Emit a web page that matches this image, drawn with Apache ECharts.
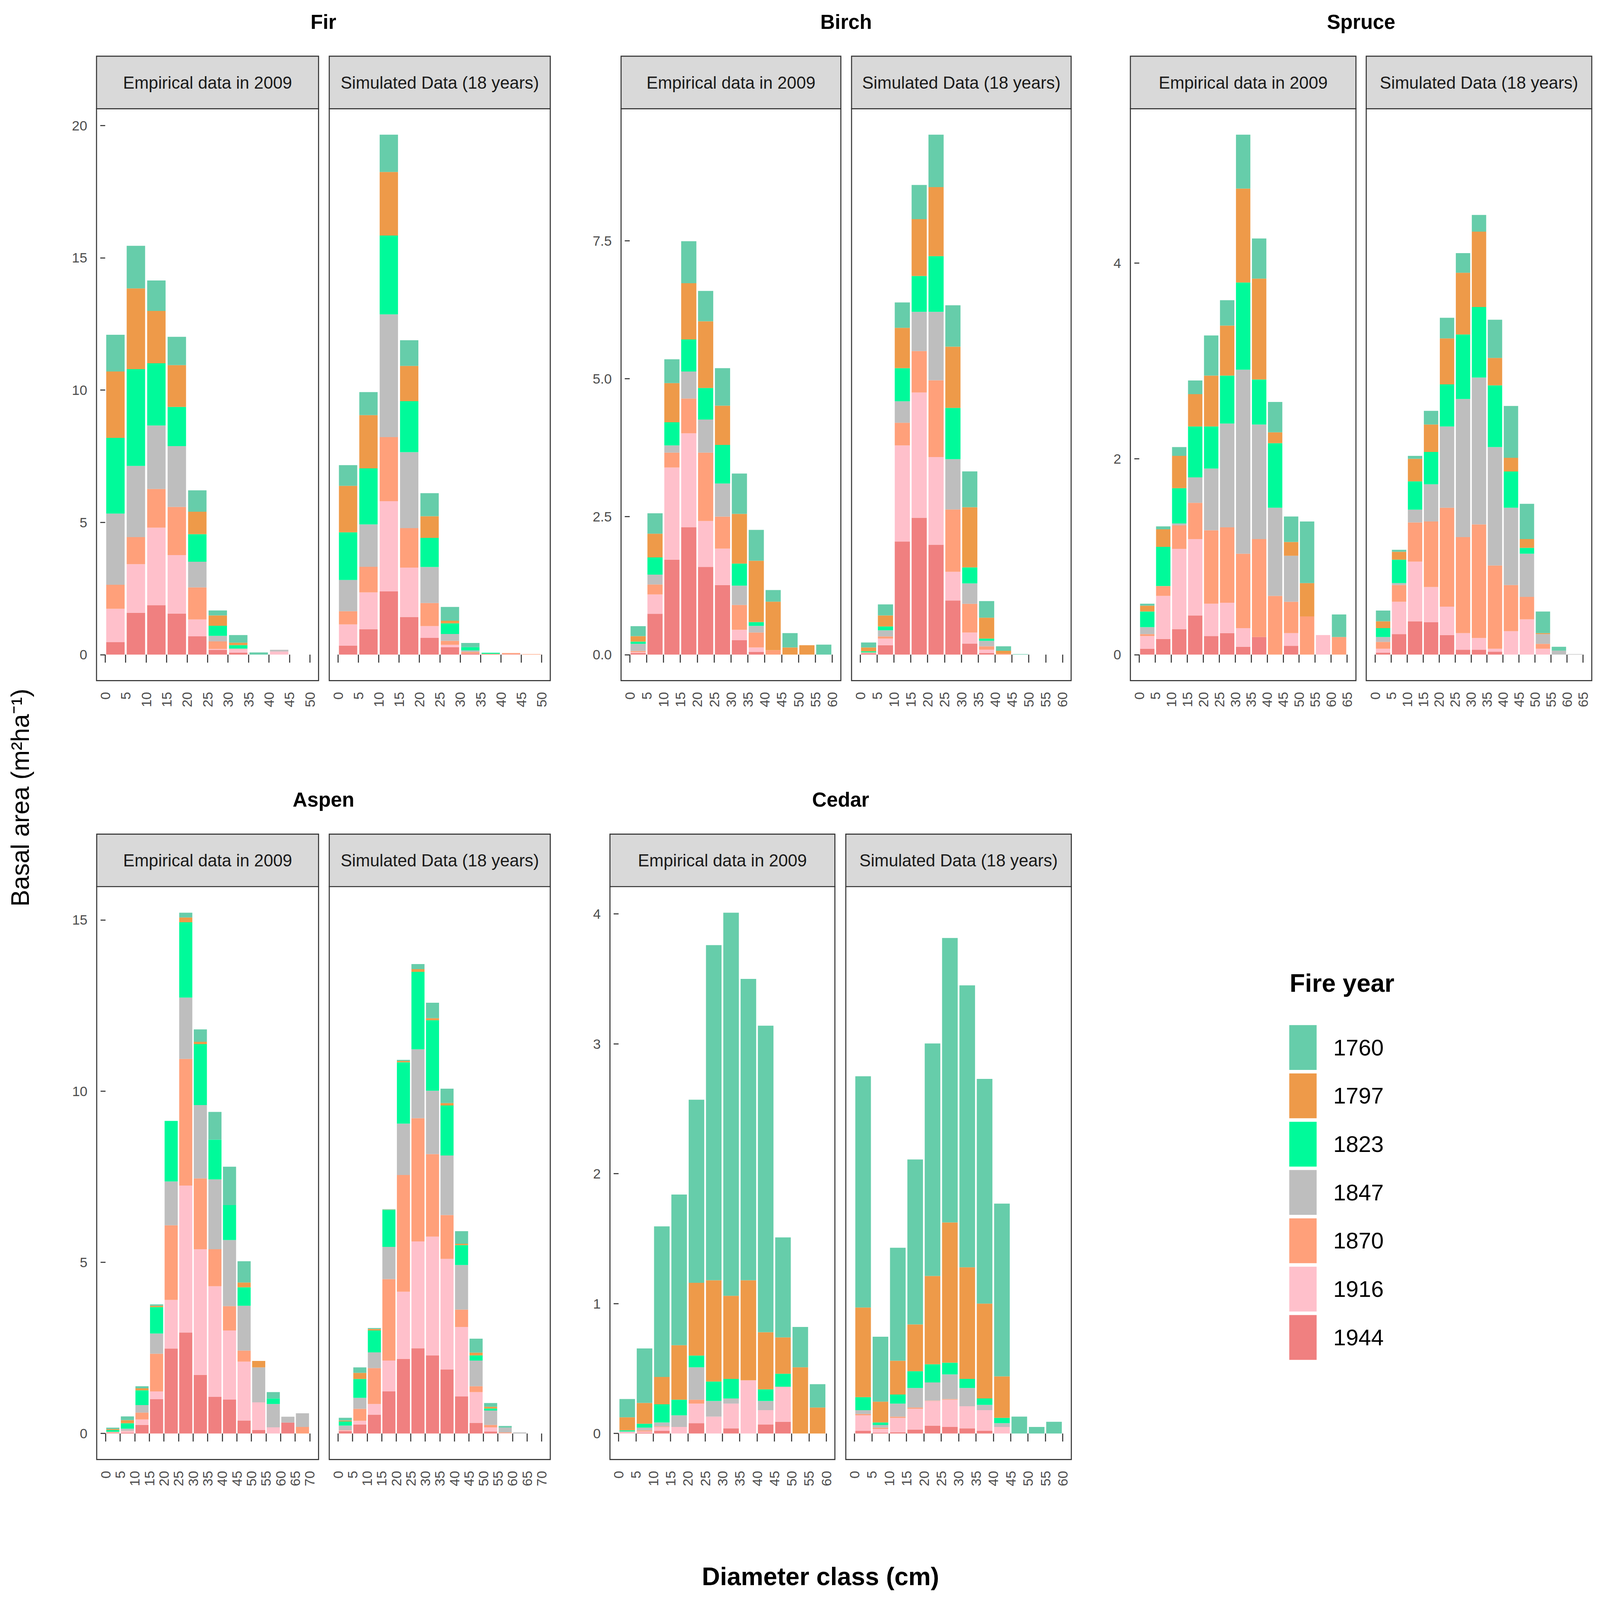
<!DOCTYPE html>
<html>
<head>
<meta charset="utf-8">
<script src="https://cdn.jsdelivr.net/npm/echarts@6/dist/echarts.min.js"></script>
<style>
html,body{margin:0;padding:0;background:#ffffff;overflow:hidden;width:100%;height:100%;}
#chart{position:absolute;left:0;top:0;}
</style>
</head>
<body>
<div id="chart"></div>
<script>
// ---------------- DATA ----------------
const fireYears = ['1760', '1797', '1823', '1847', '1870', '1916', '1944'];
const panelNames = ['Empirical data in 2009', 'Simulated Data (18 years)'];

// Fir
const firClasses = [0, 5, 10, 15, 20, 25, 30, 35, 40, 45];
const firXTicks = [0, 5, 10, 15, 20, 25, 30, 35, 40, 45, 50];
const firYTicks = ['0', '5', '10', '15', '20'];
const firEmpirical = [ // rows follow fireYears
  [1.39, 1.61, 1.15, 1.07, 0.81, 0.19, 0.29, 0.08, 0, 0],
  [2.51, 3.05, 1.98, 1.58, 0.85, 0.39, 0.09, 0, 0, 0],
  [2.86, 3.66, 2.35, 1.48, 1.04, 0.38, 0.13, 0, 0, 0],
  [2.69, 2.69, 2.40, 2.30, 0.97, 0.21, 0.02, 0, 0.06, 0],
  [0.91, 1.02, 1.46, 1.82, 1.21, 0.29, 0.01, 0, 0, 0],
  [1.26, 1.84, 2.93, 2.21, 0.64, 0.03, 0.13, 0, 0.12, 0],
  [0.47, 1.58, 1.87, 1.55, 0.69, 0.18, 0.07, 0, 0, 0]
];
const firSimulated = [
  [0.78, 0.87, 1.41, 0.97, 0.87, 0.52, 0.16, 0, 0, 0],
  [1.76, 2.01, 2.40, 1.33, 0.82, 0.10, 0, 0, 0, 0],
  [1.80, 2.12, 2.98, 1.93, 1.10, 0.40, 0.12, 0.04, 0, 0],
  [1.18, 1.60, 4.64, 2.87, 1.36, 0.26, 0.06, 0, 0, 0],
  [0.50, 0.97, 2.42, 1.49, 0.87, 0.15, 0.05, 0.02, 0.04, 0.02],
  [0.80, 1.39, 3.41, 1.87, 0.45, 0.09, 0.01, 0, 0, 0],
  [0.34, 0.96, 2.39, 1.42, 0.63, 0.28, 0.04, 0.01, 0.02, 0]
];

// Birch
const birchClasses = [0, 5, 10, 15, 20, 25, 30, 35, 40, 45, 50, 55];
const birchXTicks = [0, 5, 10, 15, 20, 25, 30, 35, 40, 45, 50, 55, 60];
const birchYTicks = ['0.0', '2.5', '5.0', '7.5'];
const birchEmpirical = [
  [0.18, 0.37, 0.43, 0.76, 0.55, 0.68, 0.73, 0.56, 0.21, 0.26, 0, 0.18],
  [0.10, 0.43, 0.71, 1.02, 1.21, 0.71, 0.90, 1.11, 0.88, 0.13, 0.17, 0],
  [0.04, 0.31, 0.42, 0.58, 0.57, 0.70, 0.40, 0.07, 0, 0, 0, 0],
  [0.13, 0.18, 0.13, 0.49, 0.60, 0.60, 0.35, 0.12, 0, 0, 0, 0],
  [0.02, 0.18, 0.27, 0.63, 1.24, 0.58, 0.45, 0.27, 0.08, 0, 0, 0],
  [0.015, 0.35, 1.67, 1.70, 0.83, 0.66, 0.19, 0.08, 0, 0, 0, 0],
  [0.03, 0.74, 1.72, 2.31, 1.59, 1.26, 0.26, 0.05, 0, 0, 0, 0]
];
const birchSimulated = [
  [0.09, 0.20, 0.46, 0.62, 0.95, 0.75, 0.65, 0.30, 0.08, 0.01, 0, 0],
  [0.07, 0.20, 0.73, 1.03, 1.25, 1.11, 1.09, 0.38, 0.05, 0, 0, 0],
  [0.02, 0.07, 0.60, 0.65, 1.01, 0.93, 0.29, 0.04, 0, 0, 0, 0],
  [0, 0.11, 0.39, 0.71, 1.24, 0.91, 0.37, 0.10, 0, 0, 0, 0],
  [0.01, 0.04, 0.41, 0.75, 1.39, 1.13, 0.52, 0.06, 0.02, 0, 0, 0],
  [0.01, 0.12, 1.74, 2.27, 1.59, 0.52, 0.20, 0.06, 0, 0, 0, 0],
  [0.02, 0.17, 2.05, 2.48, 1.99, 0.98, 0.20, 0.03, 0, 0, 0, 0]
];

// Spruce
const spruceClasses = [0, 5, 10, 15, 20, 25, 30, 35, 40, 45, 50, 55, 60];
const spruceXTicks = [0, 5, 10, 15, 20, 25, 30, 35, 40, 45, 50, 55, 60, 65];
const spruceYTicks = ['0', '2', '4'];
const spruceEmpirical = [
  [0.02, 0.03, 0.09, 0.14, 0.41, 0.26, 0.55, 0.41, 0.31, 0.26, 0.63, 0, 0.23],
  [0.06, 0.18, 0.33, 0.33, 0.52, 0.51, 0.96, 1.03, 0.11, 0.14, 0.34, 0, 0],
  [0.16, 0.40, 0.36, 0.52, 0.43, 0.49, 0.89, 0.46, 0.66, 0, 0, 0, 0],
  [0.07, 0, 0.02, 0.26, 0.63, 1.06, 1.88, 1.17, 0.90, 0.47, 0, 0, 0],
  [0.02, 0.10, 0.24, 0.37, 0.75, 0.77, 0.76, 1.00, 0.60, 0.32, 0.39, 0, 0.18],
  [0.13, 0.44, 0.82, 0.78, 0.33, 0.31, 0.19, 0, 0, 0.13, 0, 0.20, 0],
  [0.06, 0.16, 0.26, 0.40, 0.19, 0.22, 0.08, 0.18, 0, 0.09, 0, 0, 0]
];
const spruceSimulated = [
  [0.11, 0.02, 0.03, 0.14, 0.21, 0.20, 0.17, 0.39, 0.53, 0.36, 0.22, 0.04, 0],
  [0.07, 0.08, 0.23, 0.28, 0.47, 0.63, 0.77, 0.28, 0.14, 0.09, 0.01, 0, 0],
  [0.09, 0.24, 0.29, 0.33, 0.43, 0.66, 0.72, 0.63, 0.37, 0.06, 0, 0, 0],
  [0.05, 0.02, 0.13, 0.38, 0.83, 1.41, 1.50, 1.21, 0.79, 0.44, 0.10, 0.04, 0.005],
  [0.07, 0.17, 0.40, 0.67, 1.01, 0.98, 1.16, 0.85, 0.47, 0.23, 0.05, 0, 0],
  [0.04, 0.33, 0.61, 0.36, 0.29, 0.17, 0.12, 0.03, 0.24, 0.36, 0.06, 0, 0],
  [0.02, 0.21, 0.34, 0.33, 0.20, 0.05, 0.05, 0.03, 0, 0, 0, 0, 0]
];

// Aspen
const aspenClasses = [0, 5, 10, 15, 20, 25, 30, 35, 40, 45, 50, 55, 60, 65];
const aspenXTicks = [0, 5, 10, 15, 20, 25, 30, 35, 40, 45, 50, 55, 60, 65, 70];
const aspenYTicks = ['0', '5', '10', '15'];
const aspenEmpirical = [
  [0.04, 0.11, 0.06, 0.04, 0, 0.14, 0.36, 0.81, 1.12, 0.62, 0, 0.19, 0, 0],
  [0.03, 0.09, 0.06, 0.04, 0, 0.14, 0.07, 0, 0, 0.14, 0.19, 0, 0, 0],
  [0.05, 0.16, 0.43, 0.77, 1.77, 2.20, 1.78, 1.16, 1.02, 0.54, 0, 0.16, 0, 0],
  [0.01, 0.06, 0.22, 0.59, 1.28, 1.79, 2.14, 2.04, 1.93, 1.31, 1.02, 0.68, 0.17, 0.40],
  [0.02, 0.01, 0.20, 1.10, 2.18, 3.70, 2.07, 1.08, 0.71, 0.32, 0, 0, 0, 0.19],
  [0.01, 0.05, 0.16, 0.23, 1.42, 4.29, 3.67, 3.23, 2.02, 1.72, 0.81, 0.18, 0, 0],
  [0.01, 0.02, 0.25, 1.00, 2.48, 2.95, 1.71, 1.07, 0.99, 0.38, 0.10, 0, 0.32, 0]
];
const aspenSimulated = [
  [0.08, 0.16, 0.03, 0.01, 0.03, 0.15, 0.45, 0.42, 0.37, 0.41, 0.11, 0.05, 0, 0],
  [0.03, 0.18, 0.04, 0.01, 0.04, 0.08, 0.06, 0.07, 0.04, 0.08, 0.05, 0, 0, 0],
  [0.12, 0.55, 0.64, 1.08, 1.79, 2.26, 2.06, 1.46, 0.58, 0.15, 0.06, 0, 0, 0],
  [0.13, 0.32, 0.46, 0.94, 1.50, 2.01, 1.85, 1.74, 1.30, 0.75, 0.42, 0.14, 0.03, 0],
  [0.01, 0.35, 1.05, 2.38, 3.41, 3.60, 2.41, 1.28, 0.51, 0.17, 0.07, 0.02, 0, 0],
  [0.02, 0.11, 0.31, 0.90, 1.96, 3.12, 3.47, 3.23, 2.03, 0.90, 0.12, 0.01, 0, 0],
  [0.07, 0.26, 0.55, 1.23, 2.18, 2.49, 2.28, 1.87, 1.08, 0.31, 0.06, 0, 0, 0]
];

// Cedar
const cedarClasses = [0, 5, 10, 15, 20, 25, 30, 35, 40, 45, 50, 55];
const cedarXTicks = [0, 5, 10, 15, 20, 25, 30, 35, 40, 45, 50, 55, 60];
const cedarYTicks = ['0', '1', '2', '3', '4'];
const cedarEmpirical = [
  [0.14, 0.42, 1.16, 1.16, 1.41, 2.58, 2.95, 2.32, 2.36, 0.77, 0.31, 0.18],
  [0.10, 0.16, 0.21, 0.42, 0.56, 0.78, 0.64, 0.77, 0.44, 0.28, 0.51, 0.20],
  [0.01, 0.03, 0.14, 0.12, 0.09, 0.15, 0.15, 0, 0.09, 0.10, 0, 0],
  [0, 0.02, 0.03, 0.09, 0.25, 0.12, 0.04, 0, 0.07, 0, 0, 0],
  [0, 0.01, 0.005, 0, 0.03, 0, 0, 0, 0, 0, 0, 0],
  [0.015, 0.01, 0.03, 0.05, 0.15, 0.13, 0.19, 0.41, 0.11, 0.27, 0, 0],
  [0, 0.005, 0.02, 0, 0.08, 0, 0.04, 0, 0.07, 0.09, 0, 0]
];
const cedarSimulated = [
  [1.78, 0.50, 0.87, 1.27, 1.79, 2.19, 2.17, 1.73, 1.33, 0.13, 0.05, 0.09],
  [0.69, 0.16, 0.26, 0.36, 0.68, 1.08, 0.86, 0.73, 0.32, 0, 0, 0],
  [0.10, 0.02, 0.07, 0.13, 0.14, 0.09, 0.07, 0.05, 0.04, 0, 0, 0],
  [0.03, 0.02, 0.10, 0.15, 0.14, 0.19, 0.14, 0.04, 0.03, 0, 0, 0],
  [0.01, 0.01, 0.01, 0.01, 0.003, 0.005, 0, 0, 0, 0, 0, 0],
  [0.12, 0.03, 0.11, 0.16, 0.19, 0.21, 0.17, 0.16, 0.05, 0, 0, 0],
  [0.02, 0.005, 0.01, 0.03, 0.06, 0.05, 0.04, 0.02, 0, 0, 0, 0]
];

// ---------------- STYLE / LAYOUT ----------------
// Layout is designed on a 7775 x 4784 canvas and mapped onto the actual window.
const BASE_W = 7775, BASE_H = 4784;
const VW = window.innerWidth || BASE_W, VH = window.innerHeight || BASE_H;
const sx = VW / BASE_W, sy = VH / BASE_H, sf = Math.min(sx, sy);
const X = v => v * sx, Y = v => v * sy, F = v => v * sf;

const fireColors = ['#66CDAA', '#EE9A49', '#00FA9A', '#BEBEBE', '#FFA07A', '#FFC0CB', '#F08080'];
const FONT = "'Liberation Sans', Arial, Helvetica, sans-serif";
const rowsLayout = [
  { top: 325, bottom: 2035, stripTop: 168, titleY: 65 },
  { top: 2651, bottom: 4364, stripTop: 2494, titleY: 2391 }
];
const species = [
  { title: 'Fir', classes: firClasses, xTicks: firXTicks, yTicks: firYTicks, panels: [firEmpirical, firSimulated],
    row: 0, xs: [[469, 1548], [1600, 2674]], pad: 2.12 },
  { title: 'Birch', classes: birchClasses, xTicks: birchXTicks, yTicks: birchYTicks, panels: [birchEmpirical, birchSimulated],
    row: 0, xs: [[3018, 4086], [4138, 5205]], pad: 2.56 },
  { title: 'Spruce', classes: spruceClasses, xTicks: spruceXTicks, yTicks: spruceYTicks, panels: [spruceEmpirical, spruceSimulated],
    row: 0, xs: [[5493, 6589], [6639, 7735]], pad: 2.78 },
  { title: 'Aspen', classes: aspenClasses, xTicks: aspenXTicks, yTicks: aspenYTicks, panels: [aspenEmpirical, aspenSimulated],
    row: 1, xs: [[470, 1548], [1600, 2674]], pad: 3.02 },
  { title: 'Cedar', classes: cedarClasses, xTicks: cedarXTicks, yTicks: cedarYTicks, panels: [cedarEmpirical, cedarSimulated],
    row: 1, xs: [[2964, 4057], [4110, 5206]], pad: 2.49 }
];

const grids = [], xAxes = [], yAxes = [], series = [], graphics = [];
const lineW = Math.max(1, F(5));
let k = 0;
species.forEach(sp => {
  const R = rowsLayout[sp.row];
  // common y range for the pair (ggplot 5% expansion of 0..max)
  let M = 0;
  sp.panels.forEach(rows => {
    sp.classes.forEach((c, j) => {
      let s = 0; rows.forEach(r => { s += r[j]; });
      if (s > M) M = s;
    });
  });
  const yVals = sp.yTicks.map(Number);
  const xMax = sp.xTicks[sp.xTicks.length - 1];
  graphics.push({
    type: 'text', x: X((sp.xs[0][0] + sp.xs[1][1]) / 2), y: Y(R.titleY), z: 10,
    style: { text: sp.title, fill: '#000000', fontSize: F(98), fontWeight: 'bold', fontFamily: FONT,
      align: 'center', verticalAlign: 'middle', textAlign: 'center', textVerticalAlign: 'middle' }
  });
  sp.panels.forEach((rows, p) => {
    const [l, r] = sp.xs[p];
    grids.push({ left: X(l), top: Y(R.top), width: X(r - l), height: Y(R.bottom - R.top), show: true,
      borderColor: '#333333', borderWidth: lineW, backgroundColor: '#ffffff' });
    xAxes.push({
      gridIndex: k, type: 'value', min: -sp.pad, max: xMax + sp.pad,
      axisLine: { show: false }, splitLine: { show: false },
      axisTick: { show: true, length: Y(24), lineStyle: { color: '#333333', width: lineW }, customValues: sp.xTicks },
      axisLabel: { show: true, customValues: sp.xTicks, rotate: 90, fontSize: F(67), color: '#4D4D4D',
        fontFamily: FONT, margin: Y(24) + F(16) }
    });
    const isLeft = p === 0;
    yAxes.push({
      gridIndex: k, type: 'value', min: -0.05 * M, max: 1.05 * M,
      axisLine: { show: false }, splitLine: { show: false },
      axisTick: isLeft ? { show: true, length: X(24), lineStyle: { color: '#333333', width: lineW }, customValues: yVals } : { show: false },
      axisLabel: isLeft ? {
        show: true, customValues: yVals, fontSize: F(67), color: '#4D4D4D', fontFamily: FONT, margin: X(24) + F(21),
        formatter: v => { const i = yVals.findIndex(t => Math.abs(t - v) < 1e-9); return i >= 0 ? sp.yTicks[i] : ''; }
      } : { show: false }
    });
    // stacked bars: bottom = 1944 ... top = 1760
    for (let i = fireYears.length - 1; i >= 0; i--) {
      series.push({
        type: 'bar', name: fireYears[i], xAxisIndex: k, yAxisIndex: k, stack: 'panel' + k,
        barWidth: '90%', silent: true, animation: false,
        itemStyle: { color: fireColors[i] },
        encode: { x: 1, y: 0 },
        data: sp.classes.map((c, j) => [rows[i][j], c + 2.5])
      });
    }
    graphics.push({
      type: 'rect', z: 5,
      shape: { x: X(l), y: Y(R.stripTop), width: X(r - l), height: Y(R.top - R.stripTop) },
      style: { fill: '#D9D9D9', stroke: '#333333', lineWidth: lineW }
    });
    graphics.push({
      type: 'text', x: X((l + r) / 2), y: Y((R.stripTop + R.top) / 2), z: 6,
      style: { text: panelNames[p], fill: '#1A1A1A', fontSize: F(83), fontFamily: FONT,
        align: 'center', verticalAlign: 'middle', textAlign: 'center', textVerticalAlign: 'middle' }
    });
    k++;
  });
});

graphics.push({
  type: 'text', x: X(3987), y: Y(4714), z: 10,
  style: { text: 'Diameter class (cm)', fill: '#000000', fontSize: F(122), fontWeight: 'bold', fontFamily: FONT,
    align: 'center', verticalAlign: 'middle', textAlign: 'center', textVerticalAlign: 'middle' }
});
graphics.push({
  type: 'text', x: X(99), y: Y(2385), rotation: Math.PI / 2, z: 10,
  style: { text: 'Basal area (m²ha⁻¹)', fill: '#000000', fontSize: F(122), fontFamily: FONT,
    align: 'center', verticalAlign: 'middle', textAlign: 'center', textVerticalAlign: 'middle' }
});
graphics.push({
  type: 'text', x: X(6267), y: Y(2940), z: 10,
  style: { text: 'Fire year', fill: '#000000', fontSize: F(122), fontWeight: 'bold', fontFamily: FONT,
    align: 'left', verticalAlign: 'middle', textAlign: 'left', textVerticalAlign: 'middle' }
});

const option = {
  animation: false,
  backgroundColor: '#ffffff',
  textStyle: { fontFamily: FONT },
  grid: grids,
  xAxis: xAxes,
  yAxis: yAxes,
  series: series,
  legend: {
    orient: 'vertical', left: X(6265), top: Y(3065), padding: 0,
    itemWidth: X(133), itemHeight: Y(134), itemGap: Y(10.5), selectedMode: false,
    icon: 'rect', data: fireYears,
    textStyle: { fontSize: F(110), color: '#000000', fontFamily: FONT, padding: [0, 0, 0, X(81) - 5] }
  },
  graphic: { elements: graphics }
};

const el = document.getElementById('chart');
el.style.width = VW + 'px';
el.style.height = VH + 'px';
const chart = echarts.init(el, null, { renderer: 'svg', width: VW, height: VH });
chart.setOption(option);
</script>
</body>
</html>
